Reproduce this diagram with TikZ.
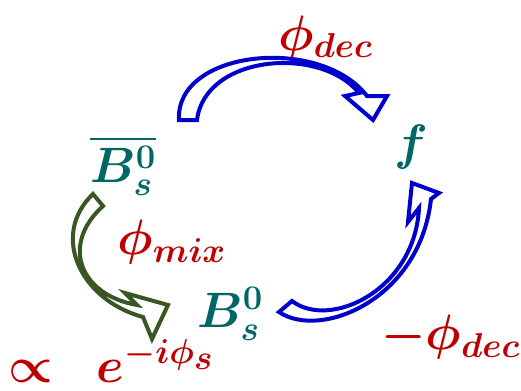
\documentclass[tikz,border=0pt]{standalone}
\usepackage{amsmath,amssymb,bm}
\usepackage{xcolor}
\usetikzlibrary{positioning}

\definecolor{bsteal}{RGB}{0,102,102}
\definecolor{phired}{RGB}{192,0,0}
\definecolor{decblue}{RGB}{0,0,204}
\definecolor{mixgreen}{RGB}{56,87,35}

\begin{document}
\begin{tikzpicture}[
  x=0.5pt, y=-0.5pt,
  meson/.style={anchor=base west, inner sep=0pt,
    text=bsteal, font=\fontsize{26}{30}\selectfont},
  phase/.style={anchor=base west, inner sep=0pt,
    text=phired, font=\fontsize{25}{30}\selectfont},
  blockarr/.style={line width=2pt, line join=miter, fill=white},
]
\useasboundingbox (0,0) rectangle (521,391);

%% ── States ───────────────────────────────────────────────────────────────────
\node[meson] (bsbar) at (90,183) {$\overline{\bm{B}_{\bm{s}}^{\bm{0}}}$};
\node[meson] (bs)    at (197,328) {$\bm{B}_{\bm{s}}^{\bm{0}}$};
\node[meson] (fstate) at (394,160) {$\bm{f}$};

%% ── Phases ───────────────────────────────────────────────────────────────────
\node[phase] (phidec)  at (278,50)  {$\bm{\phi}_{\bm{dec}}$};
\node[phase] (phimix)  at (117,255) {$\bm{\phi}_{\bm{mix}}$};
\node[phase] (mphidec) at (381,350) {$\bm{-\phi}_{\bm{dec}}$};
\node[phase] (prop)    at (8,382)
    {$\bm{\propto}\ \ \bm{e}^{\bm{-i\phi}_{\scriptstyle\bm{s}}}$};

%% ── Decay arrows ─────────────────────────────────────────────────────────────
\draw[blockarr, draw=decblue]
  (179,120) .. controls (175,50) and (320,35) .. (367,96)
  -- (387,96) -- (373,120) -- (345,96) -- (359,93)
  .. controls (320,45) and (205,55) .. (197,120) -- cycle;
\draw[blockarr, draw=decblue]
  (279,312) .. controls (320,340) and (420,300) .. (431,199)
  -- (439,193) -- (412,183) -- (408,222) -- (419,208)
  .. controls (415,290) and (330,330) .. (292,301) -- cycle;

%% ── Mixing arrow ─────────────────────────────────────────────────────────────
\draw[blockarr, draw=mixgreen]
  (93,194) .. controls (50,235) and (80,300) .. (143,317)
  -- (152,339) -- (168,305) -- (125,293) -- (137,305)
  .. controls (80,295) and (60,245) .. (103,206) -- cycle;

\end{tikzpicture}
\end{document}
